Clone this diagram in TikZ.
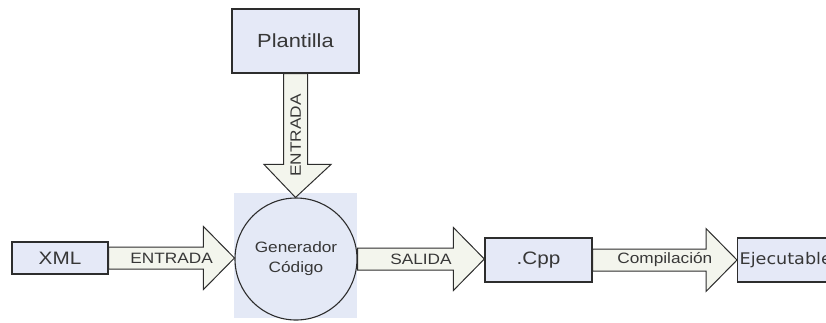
\documentclass[tikz,border=0pt]{standalone}
\usepackage{graphicx}
\usepackage{fontspec}
\setmainfont{Liberation Sans}
\newfontfamily\dejavu{DejaVu Sans}
\usetikzlibrary{calc}
\definecolor{boxfill}{RGB}{229,233,247}
\definecolor{bgfill}{RGB}{228,233,246}
\definecolor{arrowfill}{RGB}{243,245,237}
\definecolor{edgecol}{RGB}{45,45,45}
\definecolor{txtcol}{RGB}{55,55,55}
\newcommand\sx[1]{\scalebox{1.15}[1]{#1}}
\begin{document}
\begin{tikzpicture}[x=1pt,y=-1pt,
  boxnode/.style={draw=edgecol, line width=1.3pt, fill=boxfill, inner sep=0pt, text=txtcol},
  bignode/.style={font=\fontsize{18}{20}\selectfont},
  fatarrow/.style={draw=edgecol, line width=1pt, fill=arrowfill, line join=miter},
  arrowlabel/.style={text=txtcol, inner sep=0pt, font=\fontsize{15}{17}\selectfont}]
\useasboundingbox (0,0) rectangle (826,322);
\clip (0,0) rectangle (826,322);
% background square behind generator
\fill[bgfill] (234,193) rectangle (357,318);
% nodes
\node[boxnode, bignode, minimum width=96pt, minimum height=32pt] (xml) at (60,258) {\sx{XML}};
\node[boxnode, font=\fontsize{19}{21}\selectfont, minimum width=127pt, minimum height=64pt] (plant) at (295.5,41) {\sx{Plantilla}};
\node[draw=edgecol, line width=1.1pt, fill=bgfill, circle, minimum size=122pt, inner sep=0pt, align=center, text=txtcol, font=\fontsize{15}{20}\selectfont] (gen) at (296,259) {\sx{Generador}\\\sx{Código}};
\node[boxnode, bignode, minimum width=107pt, minimum height=44pt] (cpp) at (538.5,260) {\sx{.Cpp}};
\node[boxnode, anchor=west, minimum height=44pt, inner xsep=2pt, text width=116pt, align=left, font=\dejavu\fontsize{16}{18}\selectfont] (exe) at (737,260) {\scalebox{1.1}[1]{Ejecutable}};
% horizontal fat arrows
\newcommand\fatH[3]{%
  \draw[fatarrow] let \p1=(#1), \p2=(#2) in
    (\x1,\y1+11pt) -- (\x2-31pt,\y1+11pt) -- (\x2-31pt,\y1+31.5pt) -- (\x2,\y1)
    -- (\x2-31pt,\y1-31.5pt) -- (\x2-31pt,\y1-11pt) -- (\x1,\y1-11pt) -- cycle;
  \path (#1) -- node[arrowlabel, pos=0.5] (#3) {\sx{\pgfkeysvalueof{/mylabel}}} (#2);}
\pgfkeyssetvalue{/mylabel}{ENTRADA}
\fatH{xml.east}{gen.west}{lab1}
\pgfkeyssetvalue{/mylabel}{SALIDA}
\fatH{gen.east}{cpp.west}{lab2}
\pgfkeyssetvalue{/mylabel}{Compilación}
\fatH{cpp.east}{exe.west}{lab3}
% vertical fat arrow
\draw[fatarrow] let \p1=(plant.south), \p2=(gen.north) in
  (\x1-12pt,\y1) -- (\x1-12pt,\y2+33pt) -- (\x1-31.5pt,\y2+33pt) -- (\x1,\y2)
  -- (\x1+35.5pt,\y2+33pt) -- (\x1+12pt,\y2+33pt) -- (\x1+12pt,\y1) -- cycle;
\path (plant.south) -- node[arrowlabel, rotate=90, pos=0.5] (lab4) {\sx{ENTRADA}} (gen.north);
\end{tikzpicture}
\end{document}
